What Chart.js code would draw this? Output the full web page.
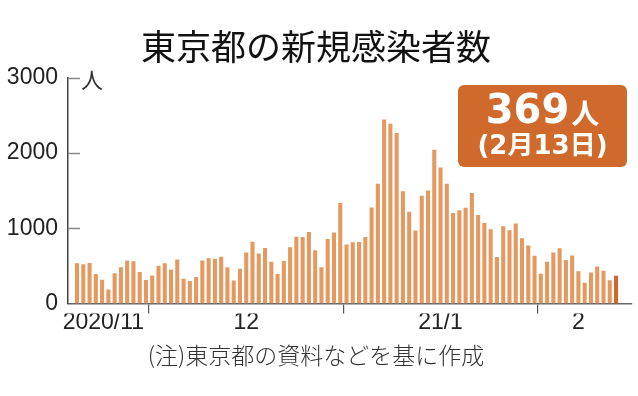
<!DOCTYPE html>
<html lang="ja">
<head>
<meta charset="utf-8">
<title>東京都の新規感染者数</title>
<script src="https://cdn.jsdelivr.net/npm/chart.js@4.4.1/dist/chart.umd.min.js"></script>
<style>
  html, body { margin: 0; padding: 0; background: #fff; }
  #wrap { width: 638px; height: 396px; }
</style>
</head>
<body>
<div id="wrap"><canvas id="mycanvas" width="638" height="396"></canvas></div>
<script>
// daily new cases in Tokyo, 2020/11/19 .. 2021/2/13
var startDate = [2020, 11, 19];
var cases = [
  534, 522, 539, 391, 314, 186, 401, 481, 570, 561, 418, 311,
  372, 500, 533, 449, 584, 327, 299, 352, 572, 602, 595, 621, 480, 305, 460, 678,
  822, 664, 736, 556, 392, 563, 748, 888, 884, 949, 708, 481, 856, 944, 1337,
  783, 814, 816, 884, 1278, 1591, 2447, 2392, 2268, 1494, 1219, 970, 1433, 1502, 2044,
  1809, 1592, 1204, 1240, 1274, 1471, 1175, 1070, 986, 618, 1026, 973, 1064, 868, 769, 633,
  393, 556, 676, 734, 577, 639, 429, 276, 412, 491, 434, 307, 369
];
var monthLabels = ['2020/11', '12', '21/1', '2'];
var daysShown = [12, 31, 31, 13];
var yTicks = [0, 1000, 2000, 3000];

var barColor = '#E3995F';
var lastColor = '#D2692A';
var sans = '"Liberation Sans Narrow", "Liberation Sans", sans-serif';
var jp = '"Noto Sans CJK JP", sans-serif';

Chart.defaults.font.family = sans;

var last = cases.length - 1;
var xMin = -1.44, xMax = last + 2.55;

// month boundaries and label spots (in day-index units)
var bounds = [], labelPos = [], acc = 0;
for (var m = 0; m < daysShown.length; m++) {
  var s = acc - 0.5;
  acc += daysShown[m];
  var e = acc - 0.5;
  if (m < daysShown.length - 1) bounds.push(e);
  labelPos.push(m === 0 ? (Math.max(s, xMin) + e) / 2 - 1.3 : (s + e) / 2);
}

var pts = cases.map(function (v, i) { return { x: i, y: v }; });

var d = new Date(startDate[0], startDate[1] - 1, startDate[2] + last);
var lastDateLabel = '(' + (d.getMonth() + 1) + '月' + d.getDate() + '日)';

var extras = {
  id: 'extras',
  afterDraw: function (chart) {
    var c = chart.ctx, a = chart.chartArea, ys = chart.scales.y;
    c.save();
    // short ticks pointing into the plot
    c.strokeStyle = '#8a8a8a';
    c.lineWidth = 1.5;
    yTicks.forEach(function (v) {
      if (!v) return;
      var py = Math.round(ys.getPixelForValue(v)) + 0.5;
      c.beginPath();
      c.moveTo(a.left, py);
      c.lineTo(a.left + 12, py);
      c.stroke();
    });
    // unit
    c.fillStyle = '#333';
    c.font = '22px ' + jp;
    c.textAlign = 'left';
    c.textBaseline = 'middle';
    c.fillText('人', a.left + 13, ys.getPixelForValue(yTicks[yTicks.length - 1]) + 2);

    // latest-day box
    var bx = 458, by = 85, bw = 169, bh = 82;
    c.fillStyle = '#CF6A2C';
    c.beginPath();
    c.roundRect(bx, by, bw, bh, 6);
    c.fill();
    c.fillStyle = '#fff';
    c.textBaseline = 'alphabetic';
    var num = String(cases[last]);
    c.font = 'bold 40px "DejaVu Sans"';
    var w1 = c.measureText(num).width;
    c.font = 'bold 28px ' + jp;
    var w2 = c.measureText('人').width;
    var x0 = bx + bw / 2 - (w1 + w2 + 2) / 2;
    c.font = 'bold 40px "DejaVu Sans"';
    c.fillText(num, x0, 123);
    c.font = 'bold 28px ' + jp;
    c.fillText('人', x0 + w1 + 2, 124);
    c.font = 'bold 26px "DejaVu Sans", ' + jp;
    c.textAlign = 'center';
    c.textBaseline = 'middle';
    c.fillText(lastDateLabel, bx + bw / 2, 147);
    c.restore();
  }
};

new Chart(document.getElementById('mycanvas'), {
  type: 'bar',
  data: {
    datasets: [{
      label: '新規感染者数',
      data: pts,
      backgroundColor: function (ctx) { return ctx.dataIndex === last ? lastColor : barColor; },
      borderWidth: 0,
      barPercentage: 0.65,
      categoryPercentage: 1,
      xAxisID: 'x',
      yAxisID: 'y'
    }]
  },
  options: {
    responsive: false,
    animation: false,
    layout: { padding: { left: 0, right: 6, top: 0, bottom: 0 } },
    plugins: {
      legend: { display: false },
      tooltip: { enabled: false },
      title: {
        display: true,
        text: '東京都の新規感染者数',
        color: '#111',
        font: { family: jp, size: 35, weight: 'normal', lineHeight: 1.2 },
        padding: { top: 26, bottom: 10 }
      },
      subtitle: {
        display: true,
        position: 'bottom',
        text: '(注)東京都の資料などを基に作成',
        color: '#333',
        font: { family: jp, size: 23, weight: 300, lineHeight: 1.2 },
        padding: { top: 0, bottom: 27 }
      }
    },
    scales: {
      x: {
        type: 'linear',
        position: 'bottom',
        offset: false,
        min: xMin,
        max: xMax,
        bounds: 'data',
        afterBuildTicks: function (s) { s.ticks = bounds.map(function (b) { return { value: b }; }); },
        afterFit: function (s) { s.height = 10; },
        ticks: { display: false },
        grid: { offset: false, drawOnChartArea: false, drawTicks: true, tickLength: 10, color: '#555', lineWidth: 1.2 },
        border: { display: true, color: '#666', width: 1.5 }
      },
      x2: {
        type: 'linear',
        position: 'bottom',
        offset: false,
        min: xMin,
        max: xMax,
        bounds: 'data',
        afterBuildTicks: function (s) { s.ticks = labelPos.map(function (p) { return { value: p }; }); },
        afterFit: function (s) { s.height = 28; },
        ticks: {
          autoSkip: false,
          maxRotation: 0,
          padding: -2,
          color: '#222',
          font: { size: 23, lineHeight: 1 },
          callback: function (v, i) { return monthLabels[i]; }
        },
        grid: { display: false, drawTicks: false, offset: false },
        border: { display: false }
      },
      y: {
        min: yTicks[0],
        max: yTicks[yTicks.length - 1],
        afterBuildTicks: function (s) { s.ticks = yTicks.map(function (v) { return { value: v }; }); },
        afterFit: function (s) { s.width = 68; },
        ticks: {
          padding: 10,
          color: '#222',
          font: { size: 23 },
          callback: function (v) { return String(v); }
        },
        grid: { display: false, drawTicks: false },
        border: { display: true, color: '#444', width: 1.5 }
      }
    }
  },
  plugins: [extras]
});
</script>
</body>
</html>
